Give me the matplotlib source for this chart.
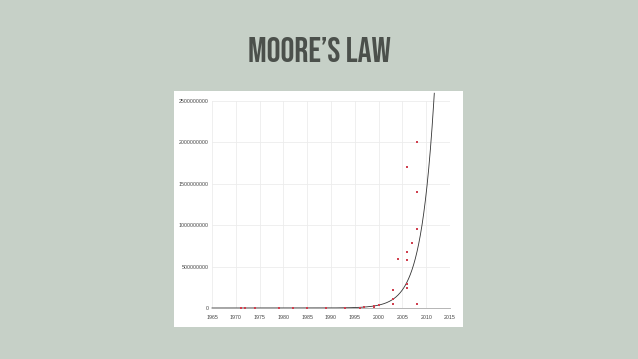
import matplotlib
matplotlib.use("Agg")
import matplotlib.pyplot as plt
import numpy as np

title = "MOORE’S LAW"
years = [1971, 1972, 1974, 1979, 1982, 1985, 1989, 1993, 1996, 1997, 1999, 1999,
         2000, 2003, 2003, 2003, 2004, 2006, 2006, 2006, 2006, 2006, 2007, 2008,
         2008, 2008, 2008]
transistors = [2300, 3500, 4500, 29000, 134000, 275000, 1200000, 3100000, 5500000,
               7500000, 9500000, 22000000, 42000000, 54000000, 105900000, 220000000,
               592000000, 241000000, 291000000, 582000000, 681000000, 1700000000,
               789000000, 47000000, 960000000, 1400000000, 2000000000]
fit_ref_year = 2011.6
fit_ref_value = 2.5e9
doubling_years = 1.88
fit_start, fit_end = 1965, 2011.7
xticks = [1965, 1970, 1975, 1980, 1985, 1990, 1995, 2000, 2005, 2010, 2015]
yticks = [0, 500000000, 1000000000, 1500000000, 2000000000, 2500000000]

W, H = 638, 359
fig = plt.figure(figsize=(W / 100, H / 100), dpi=100)
fig.patch.set_facecolor("#c6d0c7")

# white panel behind the chart
bg = fig.add_axes([174 / W, 1 - 327 / H, (463 - 174) / W, (327 - 91) / H], zorder=-5)
bg.set_facecolor("white")
bg.set_xticks([])
bg.set_yticks([])
for s in bg.spines.values():
    s.set_visible(False)

fig.text(0.5, 1 - 49.5 / H, title, ha="center", va="center", fontsize=25,
         color="#4b504b",
         family=["Bebas Neue", "Oswald", "League Gothic", "Antonio", "DejaVu Sans"])

ax = fig.add_axes([212 / W, 1 - 308 / H, (450 - 212) / W, (308 - 101) / H], zorder=1)
ax.set_facecolor("white")
ax.set_xlim(1965, 2015)
ax.set_ylim(0, 2.5e9)
ax.set_xticks(xticks)
ax.set_yticks(yticks)
ax.set_xticklabels([str(t) for t in xticks], family=["Liberation Sans", "DejaVu Sans"])
ax.set_yticklabels([str(t) for t in yticks], family=["Liberation Sans", "DejaVu Sans"])
ax.grid(True, color="#ececec", linewidth=0.6)
ax.set_axisbelow(True)
for s in ["top", "right", "left"]:
    ax.spines[s].set_visible(False)
ax.spines["bottom"].set_color("#aaaaaa")
ax.spines["bottom"].set_linewidth(0.6)
ax.tick_params(length=0, labelsize=3.8, colors="#444444")
ax.tick_params(axis="x", pad=5)
ax.tick_params(axis="y", pad=2.5)

t = np.linspace(fit_start, fit_end, 400)
ax.plot(t, fit_ref_value * 2 ** ((t - fit_ref_year) / doubling_years),
        color="#333333", linewidth=0.6, clip_on=False)
ax.scatter(years, transistors, s=0.9, marker="s", linewidths=0, color="#d0404f",
           zorder=3, clip_on=False)

fig.savefig("out.png", dpi=100, facecolor=fig.get_facecolor())
